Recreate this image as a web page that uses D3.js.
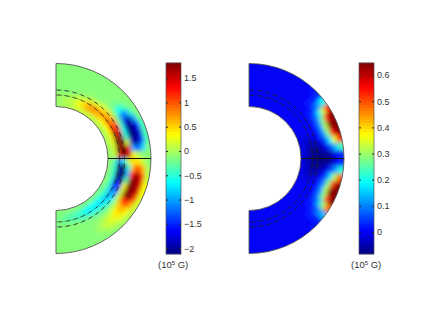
<!DOCTYPE html>
<html lang="en">
<head>
<meta charset="UTF-8">
<title>Field panels</title>
<script src="https://d3js.org/d3.v7.min.js"></script>
<style>
    html, body { margin: 0; padding: 0; background: #fff; }
    svg { display: block; }
    text { font-family: "Liberation Sans", Arial, sans-serif; font-size: 9px; fill: #333; }
</style>
</head>
<body>
<svg width="437" height="329"></svg>
<script>
// Each row is one 5 degree wedge, top pole to bottom pole. Each value is one radial bin, inner to outer.
const leftField = [
    [-.05, -.05, -.08, -.13, -.13, -.13, -.13, -.13, -.13],
    [-.02, 0, -.05, -.13, -.13, -.13, -.13, -.13, -.13],
    [.02, .05, 0, -.12, -.13, -.13, -.13, -.13, -.13],
    [.05, .15, .08, -.1, -.13, -.13, -.13, -.13, -.13],
    [.1, .3, .2, -.08, -.13, -.13, -.13, -.13, -.13],
    [.12, .5, .4, 0, -.13, -.13, -.13, -.13, -.13],
    [.12, .65, .6, .1, -.12, -.13, -.13, -.13, -.13],
    [.1, .65, .75, .2, -.1, -.13, -.13, -.13, -.13],
    [.08, .55, .8, .3, -.08, -.13, -.13, -.13, -.13],
    [.05, .45, .8, .4, -.08, -.25, -.2, -.13, -.13],
    [.03, .35, .85, .55, -.15, -.6, -.5, -.2, -.13],
    [.02, .3, 1, .8, -.25, -1.1, -1.1, -.45, -.13],
    [0, .3, 1.3, 1.1, -.45, -1.8, -2, -1, -.2],
    [0, .3, 1.6, 1.4, -.6, -2.1, -2.1, -1.6, -.35],
    [-.03, .25, 1.8, 1.8, -.5, -2.1, -2.1, -1.8, -.4],
    [-.03, .2, 1.8, 1.8, .1, -1.9, -2.1, -1.5, -.35],
    [-.05, .15, 1.8, 1.8, 1.4, -.9, -1.4, -.8, -.2],
    [-.08, .05, 1.4, 1.8, 1.5, .3, 0, -.1, -.12],
    [-.08, -.35, -1.1, -.6, .2, .5, .45, .15, -.1],
    [-.1, -.45, -2.1, -2.1, -.5, .7, 1.2, .6, 0],
    [-.12, -.45, -2.1, -2.1, -.9, 1.3, 1.8, 1.2, .1],
    [-.12, -.45, -2, -2.1, -.3, 1.8, 1.8, 1.5, .3],
    [-.15, -.45, -1.6, -1.7, .3, 1.8, 1.8, 1.5, .3],
    [-.15, -.45, -1.3, -1.3, .2, 1.8, 1.8, 1.1, .2],
    [-.18, -.45, -1, -.9, .1, 1, 1.2, .65, .1],
    [-.2, -.5, -.9, -.65, 0, .5, .65, .35, .03],
    [-.2, -.55, -.8, -.5, -.05, .3, .4, .22, -.02],
    [-.2, -.6, -.75, -.4, -.1, .15, .25, .12, -.08],
    [-.2, -.6, -.7, -.3, -.13, .03, .12, .03, -.1],
    [-.2, -.6, -.65, -.25, -.13, -.08, -.02, -.08, -.13],
    [-.18, -.55, -.55, -.2, -.13, -.13, -.1, -.13, -.13],
    [-.15, -.45, -.45, -.17, -.13, -.13, -.13, -.13, -.13],
    [-.15, -.4, -.35, -.15, -.13, -.13, -.13, -.13, -.13],
    [-.14, -.3, -.3, -.14, -.13, -.13, -.13, -.13, -.13],
    [-.13, -.22, -.22, -.13, -.13, -.13, -.13, -.13, -.13],
    [-.13, -.18, -.18, -.13, -.13, -.13, -.13, -.13, -.13]
]
const rightField = [
    [0, 0, 0, 0, 0, 0, 0, 0, 0],
    [0, 0, 0, 0, 0, 0, 0, 0, 0],
    [0, 0, 0, 0, 0, 0, 0, 0, 0],
    [0, 0, 0, 0, 0, 0, 0, 0, 0],
    [0, 0, 0, 0, 0, 0, 0, 0, 0],
    [0, 0, 0, 0, 0, 0, 0, 0, 0],
    [0, 0, 0, 0, 0, 0, 0, 0, 0],
    [0, 0, 0, 0, 0, 0, 0, 0, 0],
    [0, 0, 0, 0, 0, 0, 0, 0, .01],
    [0, 0, 0, 0, 0, .01, .02, .03, .04],
    [0, 0, 0, 0, .01, .03, .07, .13, .2],
    [0, 0, 0, 0, .02, .07, .17, .33, .55],
    [0, 0, 0, 0, .03, .1, .27, .55, .64],
    [-.01, -.01, 0, 0, .03, .12, .32, .64, .64],
    [-.01, -.02, -.02, -.01, .02, .1, .28, .55, .64],
    [-.01, -.03, -.04, -.04, -.01, .05, .17, .35, .55],
    [-.01, -.04, -.07, -.08, -.06, -.01, .06, .15, .24],
    [-.01, -.04, -.08, -.08, -.08, -.08, -.05, 0, .04],
    [-.01, -.04, -.08, -.08, -.08, -.08, -.05, 0, .04],
    [-.01, -.04, -.07, -.08, -.06, -.02, .05, .13, .22],
    [-.01, -.03, -.04, -.04, -.01, .04, .16, .32, .5],
    [-.01, -.02, -.02, -.01, .02, .09, .27, .52, .64],
    [-.01, -.01, 0, 0, .03, .12, .32, .64, .64],
    [0, 0, 0, 0, .03, .1, .27, .52, .64],
    [0, 0, 0, 0, .02, .06, .15, .3, .48],
    [0, 0, 0, 0, .01, .03, .06, .1, .14],
    [0, 0, 0, 0, 0, .01, .02, .03, .03],
    [0, 0, 0, 0, 0, 0, 0, 0, .01],
    [0, 0, 0, 0, 0, 0, 0, 0, 0],
    [0, 0, 0, 0, 0, 0, 0, 0, 0],
    [0, 0, 0, 0, 0, 0, 0, 0, 0],
    [0, 0, 0, 0, 0, 0, 0, 0, 0],
    [0, 0, 0, 0, 0, 0, 0, 0, 0],
    [0, 0, 0, 0, 0, 0, 0, 0, 0],
    [0, 0, 0, 0, 0, 0, 0, 0, 0],
    [0, 0, 0, 0, 0, 0, 0, 0, 0]
]
const leftDomain = [-2.12, 1.81]
const rightDomain = [-.084, .646]
const leftTicks = [-2, -1.5, -1, -.5, 0, .5, 1, 1.5]
const rightTicks = [0, .1, .2, .3, .4, .5, .6]
const dashedRadii = [63.5, 68.5]

const innerR = 52, outerR = 95, cy = 158.5, barTop = 63, barBottom = 254, barW = 15

let svg = d3.select("svg")
svg.append("defs").append("filter").attr("id", "soft")
    .append("feGaussianBlur").attr("stdDeviation", 2)

// matlab jet
function jet(t) {
    let c = x => Math.round(255 * Math.max(0, Math.min(1, 1.5 - Math.abs(4 * t - x))))
    return `rgb(${c(3)},${c(2)},${c(1)})`
}
const levels = d3.range(64)

function drawPanel(id, field, domain, ticks, cx, barX) {
    let color = d3.scaleQuantize()
        .domain(domain)
        .range(levels.map(l => jet((l + .5) / 64)))

    let wedge = d3.scaleBand().domain(d3.range(field.length)).range([0, Math.PI])
    let ring = d3.scaleBand().domain(d3.range(field[0].length)).range([innerR, outerR])

    let g = svg.append("g").attr("transform", `translate(${cx},${cy})`)

    let shape = d3.arc().innerRadius(innerR).outerRadius(outerR).startAngle(0).endAngle(Math.PI)
    g.append("clipPath").attr("id", "clip" + id).append("path").attr("d", shape())

    // Edge cells run past the clip so the blur doesn't fade at the border
    let cells = []
    field.forEach((row, i) => row.forEach((v, j) => cells.push({i, j, v})))
    let cell = d3.arc()
        .innerRadius(d => ring(d.j) - (d.j === 0 ? 8 : 0))
        .outerRadius(d => ring(d.j) + ring.bandwidth() + (d.j === field[0].length - 1 ? 8 : 0))
        .startAngle(d => wedge(d.i) - (d.i === 0 ? .15 : 0))
        .endAngle(d => wedge(d.i) + wedge.bandwidth() + (d.i === field.length - 1 ? .15 : 0))

    g.append("g").attr("clip-path", `url(#clip${id})`)
        .append("g").attr("filter", "url(#soft)")
        .selectAll("path")
        .data(cells)
        .enter()
        .append("path")
        .attr("d", cell)
        .attr("fill", d => color(d.v))
        .attr("stroke", d => color(d.v))
        .attr("stroke-width", .6)

    // dashed circles
    g.selectAll(".dash")
        .data(dashedRadii)
        .enter()
        .append("path")
        .attr("class", "dash")
        .attr("d", r => d3.arc().innerRadius(r).outerRadius(r).startAngle(0).endAngle(Math.PI)())
        .attr("fill", "none")
        .attr("stroke", "#222")
        .attr("stroke-width", .6)
        .attr("stroke-dasharray", "4 4")

    // outline and equator
    g.append("path").attr("d", shape())
        .attr("fill", "none").attr("stroke", "#555").attr("stroke-width", .9)
    g.append("line")
        .attr("x1", innerR).attr("x2", outerR)
        .attr("y1", 0).attr("y2", 0)
        .attr("stroke", "#111").attr("stroke-width", 1)

    // colorbar
    let y = d3.scaleLinear().domain(domain).range([barBottom, barTop])
    let stops = d3.scaleBand().domain(levels).range([barBottom, barTop])
    svg.append("g").selectAll("rect")
        .data(levels)
        .enter()
        .append("rect")
        .attr("x", barX)
        .attr("y", l => stops(l) - .3)
        .attr("width", barW)
        .attr("height", stops.bandwidth() + .6)
        .attr("fill", l => jet((l + .5) / 64))

    let axis = svg.append("g")
        .attr("transform", `translate(${barX + barW},0)`)
        .call(d3.axisRight(y).tickValues(ticks).tickSize(-2).tickPadding(4)
            .tickFormat(d => String(d).replace("-", "\u2212")))
    axis.select(".domain").remove()
    axis.selectAll("line").attr("stroke", "#222")
    axis.selectAll("text").attr("x", 3).attr("text-anchor", "start")

    let axisL = svg.append("g")
        .attr("transform", `translate(${barX},0)`)
        .call(d3.axisLeft(y).tickValues(ticks).tickSize(-2).tickFormat(""))
    axisL.select(".domain").remove()
    axisL.selectAll("line").attr("stroke", "#222")

    svg.append("rect")
        .attr("x", barX).attr("y", barTop)
        .attr("width", barW).attr("height", barBottom - barTop)
        .attr("fill", "none").attr("stroke", "#555").attr("stroke-width", .7)

    // unit label
    let unit = svg.append("text")
        .attr("x", barX - 8)
        .attr("y", 268)
        .style("font-size", "9.5px")
    unit.append("tspan").text("(10")
    unit.append("tspan").text("5").attr("dy", -3).style("font-size", "6px")
    unit.append("tspan").text(" G)").attr("dy", 3)
}

drawPanel("L", leftField, leftDomain, leftTicks, 56, 166)
drawPanel("R", rightField, rightDomain, rightTicks, 249, 359)
</script>
</body>
</html>
